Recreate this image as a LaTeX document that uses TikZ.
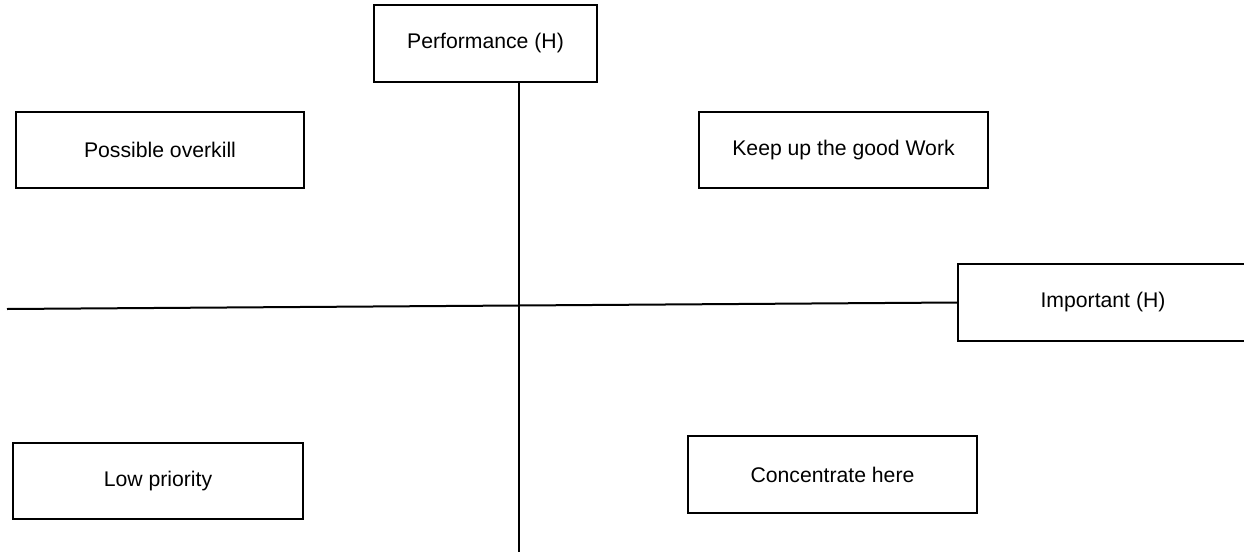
\documentclass[tikz,border=0pt]{standalone}
\usepackage{fontspec}
\setmainfont{Liberation Sans}
\begin{document}
\begin{tikzpicture}[x=1pt,y=-1pt,
  box/.style={draw=black,line width=1.6pt,rectangle,inner sep=0pt,font=\fontsize{21.2}{25}\selectfont},
  axis/.style={draw=black,line width=2pt}]
\useasboundingbox (0,0) rectangle (1244,554);
\node[box,minimum width=223pt,minimum height=77pt] (perf) at (485.5,43.5) {Performance (H)};
\node[box,minimum width=288pt,minimum height=76pt] (over) at (160,150) {Possible overkill};
\node[box,minimum width=289pt,minimum height=76pt] (keep) at (843.5,150) {Keep up the good Work};
\node[box,minimum width=290pt,minimum height=77pt] (imp) at (1103,302.5) {Important (H)};
\node[box,minimum width=290pt,minimum height=76pt] (low) at (158,481) {Low priority};
\node[box,minimum width=289pt,minimum height=77pt] (conc) at (832.5,474.5) {Concentrate here};
\coordinate (hl) at (7,309);
\coordinate (vb) at (518.5,552);
\draw[axis] (hl) -- (imp.west);
\draw[axis] (perf.south -| vb) -- (vb);
\end{tikzpicture}
\end{document}
